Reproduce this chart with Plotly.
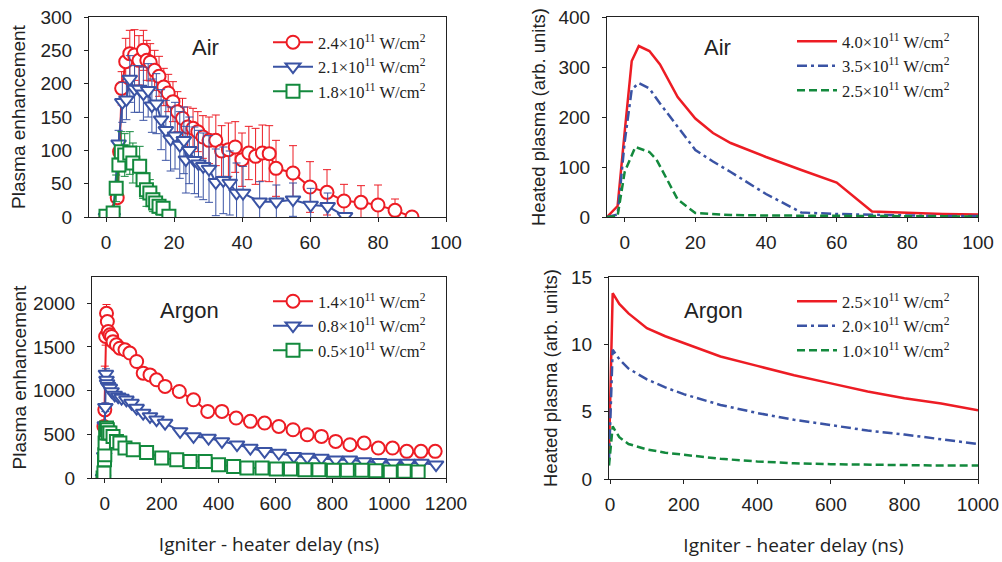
import plotly.graph_objects as go

RED = "#ED1C24"
BLUE = "#3A53A4"
GREEN = "#13893D"

# ---------------- Top-left: Air, measured ----------------
air_red_x = [0, 3.3, 4, 4.6, 5.8, 7, 8.4, 9.7, 11, 12, 13, 14.3, 15.6, 17, 18.3, 19.7, 21, 22.5, 24, 25.6, 27,
             28.5, 30.3, 32.3, 34, 36, 38, 40, 42, 44, 46, 48, 50, 55, 60, 65, 70, 75, 80, 85, 90]
air_red_y = [0, 29, 98, 193, 233, 245, 243, 235, 250, 235, 232, 220, 211, 195, 186, 173, 158, 148, 135, 133, 128,
             120, 115, 115, 99, 101, 105, 86, 96, 91, 96, 95, 73, 66, 45, 37, 24, 22, 18, 10, 0]
air_red_err = [3, 8, 15, 25, 35, 35, 38, 37, 30, 30, 28, 30, 30, 28, 28, 30, 30, 30, 30, 30, 30,
               32, 35, 38, 38, 40, 38, 40, 40, 42, 42, 42, 42, 41, 38, 34, 25, 25, 30, 17, 3]

air_blue_x = [0, 2, 3.7, 4.8, 6, 7, 8.4, 9.8, 11, 12.4, 13.5, 14.8, 16.2, 17.6, 19, 20.3, 21.7, 22.9, 23.5, 24.5,
              26, 27.2, 28.6, 30.3, 32.3, 34.5, 36.4, 38.4, 40.3, 45.2, 50.1, 55, 60.2, 65.2, 70.3]
air_blue_y = [0, 0, 110, 172, 176, 207, 192, 192, 185, 190, 167, 170, 146, 130, 117, 122, 108, 115, 86, 100,
              85, 80, 76, 72, 52, 55, 51, 36, 36, 23, 23, 26, 18, 16, 1]
air_blue_err = [2, 3, 20, 30, 30, 35, 35, 35, 40, 40, 40, 45, 45, 45, 48, 50, 50, 50, 50, 50,
                50, 50, 50, 50, 50, 50, 48, 45, 40, 30, 25, 25, 25, 20, 3]

air_green_x = [0, 2.1, 3.0, 3.8, 4.5, 5.5, 7.0, 7.9, 9.9, 10.9, 11.9, 12.9, 13.8, 14.6, 15.6, 16.8, 18.5]
air_green_y = [1, 6, 43, 78, 98, 93, 96, 81, 76, 56, 41, 36, 26, 21, 16, 13, 1]
air_green_err = [3, 5, 20, 25, 30, 32, 32, 30, 30, 28, 25, 20, 18, 15, 12, 10, 3]

# ---------------- Bottom-left: Argon, measured ----------------
ar_red_x = [-6, -3, 0, 3, 6, 9, 12, 18, 24, 29, 41, 53, 71, 88, 112, 135, 159, 182, 212, 262, 312, 362, 412,
            462, 512, 562, 612, 662, 712, 762, 812, 862, 912, 962, 1012, 1062, 1112, 1162]
ar_red_y = [0, 590, 780, 1620, 1885, 1790, 1676, 1638, 1620, 1560, 1524, 1485, 1467, 1430, 1333, 1200, 1180,
            1124, 1048, 990, 895, 762, 762, 686, 648, 629, 590, 552, 495, 476, 419, 381, 400, 343, 343, 305,
            305, 305]
ar_red_err = [5, 40, 500, 100, 100, 80, 60, 50, 50, 50, 40, 40, 40, 40, 30, 30, 30, 30, 40, 30, 30, 30, 30,
              30, 30, 50, 30, 30, 30, 30, 30, 30, 30, 30, 30, 30, 30, 30]

ar_blue_x = [-6, -2, 0, 2, 4, 6, 8, 12, 18, 24, 35, 47, 59, 76, 94, 112, 135, 159, 182, 212, 265, 312, 365,
             412, 465, 512, 562, 612, 665, 712, 762, 812, 862, 912, 965, 1015, 1065, 1114, 1165]
ar_blue_y = [0, 250, 600, 810, 1190, 1120, 1080, 1050, 1030, 990, 950, 930, 915, 895, 857, 800, 743, 705, 667,
             628, 533, 476, 457, 419, 381, 343, 305, 286, 248, 240, 229, 210, 210, 190, 180, 171, 171, 171, 152]
ar_blue_err = [5, 30, 40, 50, 60, 50, 40, 40, 30, 30, 30, 30, 30, 30, 30, 30, 30, 30, 30,
               30, 25, 25, 25, 25, 25, 25, 25, 25, 20, 20, 20, 20, 20, 20, 20, 20, 20, 20, 20]

ar_green_x = [-6, -3, -1, 0, 1, 3, 6, 9, 12, 18, 29, 41, 53, 71, 100, 147, 200, 253, 300, 353, 400, 453, 500,
              553, 603, 653, 704, 753, 804, 853, 904, 953, 1004, 1053, 1102]
ar_green_y = [0, 57, 210, 267, 400, 514, 571, 552, 514, 514, 476, 419, 400, 343, 324, 293, 229, 210, 190, 190,
              152, 133, 114, 114, 103, 103, 95, 95, 88, 88, 88, 84, 69, 76, 69]
ar_green_err = [5, 20, 30, 30, 40, 50, 50, 40, 40, 30, 30, 30, 30, 25, 25, 25, 20, 20, 20, 20,
                20, 20, 20, 20, 20, 20, 20, 20, 20, 20, 20, 20, 20, 20, 20]

# ---------------- Top-right: Air, model ----------------
sim_air_x = [-5, -2, 0, 2, 4, 7, 10, 15, 20, 25, 30, 40, 50, 60, 70, 80, 90, 100]
sim_air_red = [0, 22, 170, 312, 342, 332, 305, 240, 197, 168, 148, 120, 94, 69, 11, 8, 6, 5]
sim_air_blue = [0, 5, 150, 255, 268, 257, 227, 181, 134, 111, 90, 46, 9, 6, 4, 3, 2, 2]
sim_air_green_x = [-5, -2, 0, 3, 7, 9, 12, 15, 20, 30, 40, 60, 80, 100]
sim_air_green = [0, 2, 90, 140, 130, 115, 75, 35, 8, 4, 3, 2, 1.5, 1]

# ---------------- Bottom-right: Argon, model ----------------
sim_ar_x = [-3, 7, 25, 50, 100, 150, 200, 300, 400, 500, 600, 700, 800, 900, 1000]
sim_ar_red = [1.9, 13.8, 13.0, 12.3, 11.2, 10.6, 10.1, 9.1, 8.4, 7.7, 7.1, 6.5, 6.0, 5.6, 5.1]
sim_ar_blue = [1.4, 9.6, 8.9, 8.2, 7.4, 6.8, 6.3, 5.5, 4.9, 4.4, 4.0, 3.6, 3.3, 2.95, 2.6]
sim_ar_green = [1.0, 3.9, 3.1, 2.6, 2.2, 1.95, 1.8, 1.5, 1.3, 1.17, 1.1, 1.05, 1.0, 1.0, 1.0]

# ---------------- Labels ----------------
air_meas_labels = ["2.4×10<sup>11</sup> W/cm<sup>2</sup>", "2.1×10<sup>11</sup> W/cm<sup>2</sup>",
                   "1.8×10<sup>11</sup> W/cm<sup>2</sup>"]
ar_meas_labels = ["1.4×10<sup>11</sup> W/cm<sup>2</sup>", "0.8×10<sup>11</sup> W/cm<sup>2</sup>",
                  "0.5×10<sup>11</sup> W/cm<sup>2</sup>"]
air_sim_labels = ["4.0×10<sup>11</sup> W/cm<sup>2</sup>", "3.5×10<sup>11</sup> W/cm<sup>2</sup>",
                  "2.5×10<sup>11</sup> W/cm<sup>2</sup>"]
ar_sim_labels = ["2.5×10<sup>11</sup> W/cm<sup>2</sup>", "2.0×10<sup>11</sup> W/cm<sup>2</sup>",
                 "1.0×10<sup>11</sup> W/cm<sup>2</sup>"]

SANS = "Liberation Sans, Arial, sans-serif"
SERIF = "Liberation Serif, Times New Roman, serif"

fig = go.Figure()


def meas(x, y, err, color, symbol, name, xa, ya, legend):
    fig.add_trace(go.Scatter(
        x=x, y=y, mode="lines+markers", name=name, xaxis=xa, yaxis=ya, legend=legend,
        line=dict(color=color, width=2),
        marker=dict(symbol=symbol, size=13, color="white", line=dict(color=color, width=2)),
        error_y=dict(type="data", array=err, visible=True, color=color, thickness=1, width=4),
    ))


def sim(x, y, color, dash, name, xa, ya, legend):
    fig.add_trace(go.Scatter(
        x=x, y=y, mode="lines", name=name, xaxis=xa, yaxis=ya, legend=legend,
        line=dict(color=color, width=2.5, dash=dash),
    ))


meas(air_red_x, air_red_y, air_red_err, RED, "circle", air_meas_labels[0], "x", "y", "legend")
meas(air_blue_x, air_blue_y, air_blue_err, BLUE, "triangle-down", air_meas_labels[1], "x", "y", "legend")
meas(air_green_x, air_green_y, air_green_err, GREEN, "square", air_meas_labels[2], "x", "y", "legend")

sim(sim_air_x, sim_air_red, RED, "solid", air_sim_labels[0], "x2", "y2", "legend2")
sim(sim_air_x, sim_air_blue, BLUE, "10px,4px,3px,4px", air_sim_labels[1], "x2", "y2", "legend2")
sim(sim_air_green_x, sim_air_green, GREEN, "8px,4px", air_sim_labels[2], "x2", "y2", "legend2")

meas(ar_red_x, ar_red_y, ar_red_err, RED, "circle", ar_meas_labels[0], "x3", "y3", "legend3")
meas(ar_blue_x, ar_blue_y, ar_blue_err, BLUE, "triangle-down", ar_meas_labels[1], "x3", "y3", "legend3")
meas(ar_green_x, ar_green_y, ar_green_err, GREEN, "square", ar_meas_labels[2], "x3", "y3", "legend3")

sim(sim_ar_x, sim_ar_red, RED, "solid", ar_sim_labels[0], "x4", "y4", "legend4")
sim(sim_ar_x, sim_ar_blue, BLUE, "10px,4px,3px,4px", ar_sim_labels[1], "x4", "y4", "legend4")
sim(sim_ar_x, sim_ar_green, GREEN, "8px,4px", ar_sim_labels[2], "x4", "y4", "legend4")

W, H = 1002, 562


def px_dom_x(a, b):
    return [a / W, b / W]


def px_dom_y(top, bottom):
    return [1 - bottom / H, 1 - top / H]


tickfont = dict(family=SANS, size=19, color="#222")
common_x = dict(showline=True, linecolor="#222", linewidth=1, mirror=True, ticks="outside", ticklen=4,
                tickcolor="#222", showgrid=False, zeroline=False, tickfont=tickfont, ticklabelstandoff=4,
                automargin=False)
common_y = dict(showline=True, linecolor="#222", linewidth=1, mirror=True, ticks="outside", ticklen=4,
                tickcolor="#222", showgrid=False, zeroline=False, tickfont=tickfont, ticklabelstandoff=8,
                automargin=False)

xtitle = dict(text="Igniter - heater delay (ns)", font=dict(family="Open Sans, " + SANS, size=19, color="#222"),
              standoff=24)
ytitle_l = dict(text="Plasma enhancement", font=dict(family=SANS, size=19, color="#222"), standoff=9)
ytitle_l2 = dict(text="Plasma enhancement", font=dict(family=SANS, size=19, color="#222"), standoff=1)
ytitle_r = dict(text="Heated plasma (arb. units)", font=dict(family=SANS, size=18.5, color="#222"), standoff=8)

legend_common = dict(font=dict(family=SERIF, size=16.5, color="#222"), bgcolor="rgba(0,0,0,0)",
                     xanchor="left", yanchor="top", tracegroupgap=0, itemwidth=40)

fig.update_layout(
    width=W, height=H, margin=dict(l=0, r=0, t=0, b=0),
    paper_bgcolor="white", plot_bgcolor="white",
    showlegend=True,
    xaxis=dict(domain=px_dom_x(89, 446), range=[-5, 100], tickvals=[0, 20, 40, 60, 80, 100], anchor="y",
               **common_x),
    yaxis=dict(domain=px_dom_y(17, 217), range=[0, 300], tickvals=[0, 50, 100, 150, 200, 250, 300], anchor="x",
               title=ytitle_l, **common_y),
    xaxis2=dict(domain=px_dom_x(607, 978), range=[-5, 100], tickvals=[0, 20, 40, 60, 80, 100], anchor="y2",
                **common_x),
    yaxis2=dict(domain=px_dom_y(17, 217), range=[0, 400], tickvals=[0, 100, 200, 300, 400], anchor="x2",
                title=ytitle_r, **common_y),
    xaxis3=dict(domain=px_dom_x(92, 446), range=[-45, 1200], tickvals=[0, 200, 400, 600, 800, 1000, 1200],
                anchor="y3", title=xtitle, **common_x),
    yaxis3=dict(domain=px_dom_y(277, 478), range=[0, 2300], tickvals=[0, 500, 1000, 1500, 2000], anchor="x3",
                title=ytitle_l2, **common_y),
    xaxis4=dict(domain=px_dom_x(609, 978), range=[-3, 1000], tickvals=[0, 200, 400, 600, 800, 1000],
                anchor="y4", title=xtitle, **common_x),
    yaxis4=dict(domain=px_dom_y(277, 479), range=[0, 15], tickvals=[0, 5, 10, 15], anchor="x4",
                title=ytitle_r, **common_y),
    legend=dict(x=268 / W, y=1 - 25 / H, **legend_common),
    legend2=dict(x=792 / W, y=1 - 24 / H, **legend_common),
    legend3=dict(x=268 / W, y=1 - 284 / H, **legend_common),
    legend4=dict(x=792 / W, y=1 - 284 / H, **legend_common),
)

ann_font = dict(family=SANS, size=22, color="#222")
for txt, xp, yp in [("Air", 205, 47), ("Air", 717, 47), ("Argon", 189, 310), ("Argon", 713, 310)]:
    fig.add_annotation(text=txt, x=xp / W, y=1 - yp / H, xref="paper", yref="paper", showarrow=False,
                       xanchor="center", yanchor="middle", font=ann_font)

fig.write_html("out.html", config={"displayModeBar": False},
               post_script="document.body.style.margin='0';document.body.style.overflow='hidden';")
